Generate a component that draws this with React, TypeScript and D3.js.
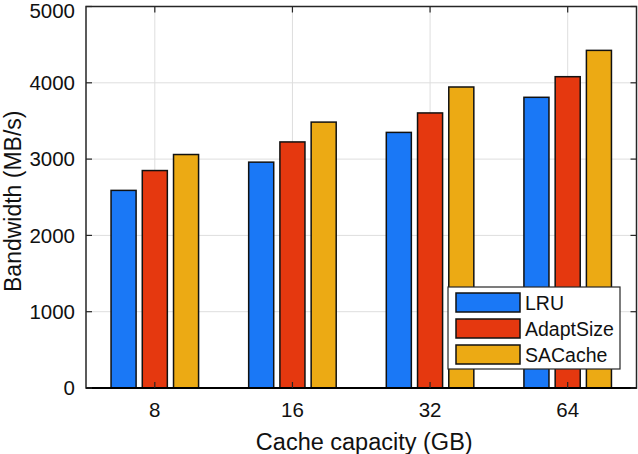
import React from "react";
import * as d3 from "d3";

const categories = ["8", "16", "32", "64"];
const seriesNames = ["LRU", "AdaptSize", "SACache"];
const lruValues = [2590, 2960, 3350, 3810];
const adaptSizeValues = [2850, 3225, 3605, 4080];
const saCacheValues = [3060, 3485, 3945, 4425];
const yTicks = [0, 1000, 2000, 3000, 4000, 5000];
const colors = ["#1a78f6", "#e5380f", "#ecaa14"];

const W = 638;
const H = 454;
const m = { left: 86, right: 636.5, top: 6.5, bottom: 388 };
const font = "'Liberation Sans', Arial, Helvetica, sans-serif";

export default function App() {
  const series = [lruValues, adaptSizeValues, saCacheValues];
  const x = d3.scaleLinear().domain([0.5, categories.length + 0.5]).range([m.left, m.right]);
  const y = d3.scaleLinear().domain([0, 5000]).range([m.bottom, m.top]);
  const unit = x(1) - x(0);
  const barW = 0.182 * unit;
  const off = 0.227 * unit;
  const tickLen = 6;
  const axisColor = "#262626";

  const legend = { x: 448, y: 287, w: 172, h: 82 };

  return (
    <svg width={W} height={H} style={{ position: "absolute", left: 0, top: 0, background: "#fff" }} fontFamily={font}>
      <rect x={0} y={0} width={W} height={H} fill="#fff" />
      {yTicks.map((t) => (
        <line key={"gy" + t} x1={m.left} x2={m.right} y1={y(t)} y2={y(t)} stroke="#dedede" strokeWidth={1} />
      ))}
      {categories.map((c, i) => (
        <line key={"gx" + c} x1={x(i + 1)} x2={x(i + 1)} y1={m.top} y2={m.bottom} stroke="#dedede" strokeWidth={1} />
      ))}
      {series.map((vals, s) =>
        vals.map((v, i) => (
          <rect
            key={s + "-" + i}
            x={x(i + 1) + (s - 1) * off - barW / 2}
            y={y(v)}
            width={barW}
            height={y(0) - y(v)}
            fill={colors[s]}
            stroke="#111"
            strokeWidth={1.5}
          />
        ))
      )}
      <rect x={m.left} y={m.top} width={m.right - m.left} height={m.bottom - m.top} fill="none" stroke={axisColor} strokeWidth={1.5} />
      <line x1={m.left} x2={m.right} y1={m.bottom} y2={m.bottom} stroke="#000" strokeWidth={2} />
      {yTicks.map((t) => (
        <g key={"ty" + t}>
          <line x1={m.left} x2={m.left + tickLen} y1={y(t)} y2={y(t)} stroke={axisColor} strokeWidth={1.2} />
          <line x1={m.right} x2={m.right - tickLen} y1={y(t)} y2={y(t)} stroke={axisColor} strokeWidth={1.2} />
          <text x={m.left - 11} y={Math.max(y(t), 10.5)} dy="0.36em" textAnchor="end" fontSize={20.5} fill="#111">
            {t}
          </text>
        </g>
      ))}
      {categories.map((c, i) => (
        <g key={"tx" + c}>
          <line x1={x(i + 1)} x2={x(i + 1)} y1={m.bottom} y2={m.bottom - tickLen} stroke={axisColor} strokeWidth={1.2} />
          <line x1={x(i + 1)} x2={x(i + 1)} y1={m.top} y2={m.top + tickLen} stroke={axisColor} strokeWidth={1.2} />
          <text x={x(i + 1)} y={417} textAnchor="middle" fontSize={20.5} fill="#111">
            {c}
          </text>
        </g>
      ))}
      <text x={(m.left + m.right) / 2 + 3} y={449.5} textAnchor="middle" fontSize={23.5} fill="#111">
        Cache capacity (GB)
      </text>
      <text transform={`translate(21,${(m.top + m.bottom) / 2 + 4}) rotate(-90)`} textAnchor="middle" fontSize={23} fill="#111">
        Bandwidth (MB/s)
      </text>
      <rect x={legend.x} y={legend.y} width={legend.w} height={legend.h} fill="#fff" stroke={axisColor} strokeWidth={1.2} />
      {seriesNames.map((n, s) => (
        <g key={n}>
          <rect x={456} y={293 + s * 26} width={64} height={19} fill={colors[s]} stroke="#111" strokeWidth={1.5} />
          <text x={525} y={302.5 + s * 26} dy="0.36em" fontSize={19.5} fill="#111">
            {n}
          </text>
        </g>
      ))}
    </svg>
  );
}
